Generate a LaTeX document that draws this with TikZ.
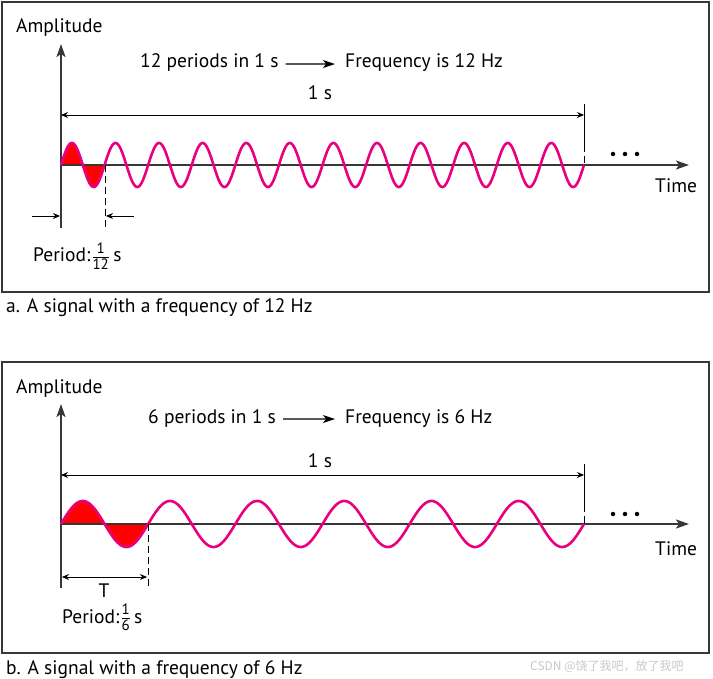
\documentclass[tikz,border=0pt]{standalone}
\usepackage{fontspec}
\setmainfont{PT Sans}
\newfontfamily\cjk{Noto Sans CJK SC}
\usetikzlibrary{arrows.meta}
\definecolor{sig}{RGB}{232,0,126}
\definecolor{axisc}{RGB}{55,55,55}
\definecolor{wm}{RGB}{200,200,200}
\newcommand{\smfrac}[2]{\ensuremath{\frac{\mbox{\fontsize{15}{15}\selectfont #1}}{\mbox{\fontsize{15}{15}\selectfont #2}}}}
\begin{document}
\begin{tikzpicture}[x=1pt,y=-1pt,
  lbl/.style={font=\fontsize{19.5}{22}\selectfont, inner sep=0pt},
  panel/.style={draw=axisc, line width=1.6pt},
  axisline/.style={draw=axisc, line width=2pt},
  axisarrow/.style={axisline, -{Stealth[length=13pt,width=9pt,inset=3pt]}},
  dimline/.style={draw=black, line width=0.9pt},
  dimarrow/.style={dimline, -{Stealth[length=7pt,width=6pt]}},
  dimboth/.style={dimline, {Stealth[length=7pt,width=6pt]}-{Stealth[length=7pt,width=6pt]}},
  txtarrow/.style={draw=black, line width=1.1pt, -{Stealth[length=12pt,width=8pt,inset=3pt]}},
  dashline/.style={draw=black, line width=0.9pt, dash pattern=on 7pt off 4pt},
  wave/.style={draw=sig, line width=2.6pt},
  dotc/.style={circle, fill=black, inner sep=0pt, minimum size=4.5pt}
]
\useasboundingbox (0,0) rectangle (713,679);

% ================= Panel a =================
\draw[panel] (2,2) rectangle (709,292);
\coordinate (a0) at (61,165);
\coordinate (aend) at (689,165);
\coordinate (atop) at (61,44);
\coordinate (abot) at (61,228);
% red fill of first period
\fill[red, domain=0:43.583, samples=80, variable=\t]
  plot ({61+\t},{165-22*sin(\t/43.583*360)}) -- cycle;
\draw[axisarrow] (a0) -- (aend);
\draw[axisarrow] (abot) -- (atop);
\draw[wave, domain=0:523, samples=700, variable=\t]
  plot ({61+\t},{165-22*sin(\t/523*12*360)});
% 1 s dimension
\coordinate (a1sL) at (61,115);
\coordinate (a1sR) at (584,115);
\coordinate (atickT) at (584,104);
\coordinate (atickM) at (584,145);
\coordinate (atickB) at (584,165);
\draw[dimline] (atickT) -- (atickM);
\draw[dashline] (atickM) -- (atickB);
\draw[dimboth] (a1sL) -- (a1sR);
\node[lbl, anchor=base] (a1s) at (320,100) {1 s};
% period dimension
\coordinate (apT) at (105,165);
\coordinate (apB) at (105,228);
\draw[dashline] (apT) -- (apB);
\coordinate (alA) at (32,216);
\coordinate (alB) at (60,216);
\coordinate (arA) at (134,216);
\coordinate (arB) at (106,216);
\draw[dimarrow] (alA) -- (alB);
\draw[dimarrow] (arA) -- (arB);
\node[lbl, anchor=base west] (aper) at (33,262) {Period:\kern1pt\smfrac{1}{12}\,s};
% labels
\node[lbl, anchor=base west] (aamp) at (16,33) {Amplitude};
\node[lbl, anchor=base west] (aper12) at (140,68) {12 periods in 1 s};
\node[lbl, anchor=base west] (afreq) at (345,68) {Frequency is 12 Hz};
\draw[txtarrow] ([xshift=7pt,yshift=-1pt]aper12.east) -- ([xshift=-10pt,yshift=-1pt]afreq.west);
\node[lbl, anchor=base west] (atime) at (655,193) {Time};
\node[dotc] (ad1) at (613,154) {};
\node[dotc] (ad2) at (625,154) {};
\node[dotc] (ad3) at (637,154) {};
\node[lbl, anchor=base west] (acap) at (6,313) {a. A signal with a frequency of 12 Hz};

% ================= Panel b =================
\draw[panel] (2,362) rectangle (709,653);
\coordinate (b0) at (61,524);
\coordinate (bend) at (689,524);
\coordinate (btop) at (61,404);
\coordinate (bbot) at (61,588);
\fill[red, domain=0:87.167, samples=100, variable=\t]
  plot ({61+\t},{524-23*sin(\t/87.167*360)}) -- cycle;
\draw[axisarrow] (b0) -- (bend);
\draw[axisarrow] (bbot) -- (btop);
\draw[wave, domain=0:523, samples=500, variable=\t]
  plot ({61+\t},{524-23*sin(\t/523*6*360)});
% 1 s dimension
\coordinate (b1sL) at (61,475);
\coordinate (b1sR) at (584,475);
\coordinate (btickT) at (584,464);
\coordinate (btickM) at (584,505);
\coordinate (btickB) at (584,524);
\draw[dimline] (btickT) -- (btickM);
\draw[dashline] (btickM) -- (btickB);
\draw[dimboth] (b1sL) -- (b1sR);
\node[lbl, anchor=base] (b1s) at (320,467) {1 s};
% period T
\coordinate (bpT) at (148,524);
\coordinate (bpB) at (148,588);
\draw[dashline] (bpT) -- (bpB);
\coordinate (bTL) at (62,577);
\coordinate (bTR) at (147,577);
\draw[dimboth] (bTL) -- (bTR);
\node[lbl, anchor=base] (bT) at (104,597) {T};
\node[lbl, anchor=base west] (bper) at (62,623) {Period:\kern1pt\smfrac{1}{6}\,s};
% labels
\node[lbl, anchor=base west] (bamp) at (16,393) {Amplitude};
\node[lbl, anchor=base west] (bper6) at (148,423) {6 periods in 1 s};
\node[lbl, anchor=base west] (bfreq) at (345,423) {Frequency is 6 Hz};
\draw[txtarrow] ([xshift=7pt,yshift=-1pt]bper6.east) -- ([xshift=-10pt,yshift=-1pt]bfreq.west);
\node[lbl, anchor=base west] (btime) at (655,555) {Time};
\node[dotc] (bd1) at (613,514) {};
\node[dotc] (bd2) at (625,514) {};
\node[dotc] (bd3) at (637,514) {};
\node[lbl, anchor=base west] (bcap) at (6,674) {b. A signal with a frequency of 6 Hz};
\node[anchor=base west, inner sep=0pt, text=wm, font=\cjk\fontsize{12}{12}\selectfont] (wmark) at (530,670) {CSDN @饶了我吧，放了我吧};
\end{tikzpicture}
\end{document}
